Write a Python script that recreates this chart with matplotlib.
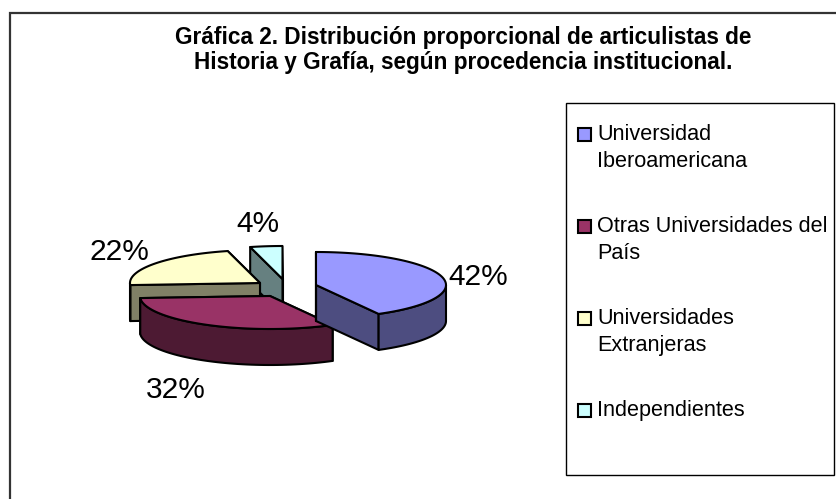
import numpy as np
import matplotlib
matplotlib.use("Agg")
import matplotlib.pyplot as plt
from matplotlib.patches import Polygon, Rectangle

plt.rcParams['font.family'] = ['Liberation Sans', 'DejaVu Sans']

title_lines = ["Gráfica 2. Distribución proporcional de articulistas de",
               "Historia y Grafía, según procedencia institucional."]
categories = ["Universidad\nIberoamericana", "Otras Universidades del\nPaís",
              "Universidades\nExtranjeras", "Independientes"]
values = [42, 32, 22, 4]
top_colors = ["#9999FF", "#993366", "#FFFFCC", "#CCFFFF"]
side_colors = ["#4D4D80", "#4D1A33", "#808066", "#668080"]
apexes = [(316, 285), (270, 296), (260, 283), (282.5, 279)]
label_pos = [(478, 277), (176, 390), (119, 252), (258, 224)]

RX, RY, DEPTH = 130, 33, 36
fig = plt.figure(figsize=(8.36, 4.99), dpi=100)
ax = fig.add_axes([0, 0, 1, 1])
ax.set_xlim(0, 836)
ax.set_ylim(499, 0)
ax.axis('off')

ax.plot([836, 10, 10], [13, 13, 499], color='#333333', lw=1.6, solid_joinstyle='miter')


def rim(a, cx, cy):
    t = np.radians(a)
    return np.column_stack([cx + RX * np.sin(t), cy - RY * np.cos(t)])


edges = np.cumsum([0] + values) * 3.6
kw = dict(ec='black', lw=1.5, joinstyle='round')
for i in [3, 2, 1, 0]:
    a0, a1 = edges[i], edges[i + 1]
    cx, cy = apexes[i]
    apex = np.array([[cx, cy]])
    for a in (a1, a0):
        p = rim(a, cx, cy)
        wall = np.vstack([apex, p, p + [0, DEPTH], apex + [0, DEPTH]])
        ax.add_patch(Polygon(wall, fc=side_colors[i], **kw))
    lo, hi = max(a0, 90), min(a1, 270)
    if hi > lo:
        arc = rim(np.linspace(lo, hi, 60), cx, cy)
        ax.add_patch(Polygon(np.vstack([arc, arc[::-1] + [0, DEPTH]]),
                             fc=side_colors[i], **kw))
    top = rim(np.linspace(a0, a1, 90), cx, cy)
    ax.add_patch(Polygon(np.vstack([apex, top]), fc=top_colors[i], **kw))

for v, (x, y) in zip(values, label_pos):
    ax.text(x, y, f"{v}%", fontsize=21.5, ha='center', va='center')

for k, line in enumerate(title_lines):
    ax.text(463, 37 + 25 * k, line, fontsize=16.3, fontweight='bold',
            ha='center', va='center')

ax.add_patch(Rectangle((565.5, 102.5), 268, 372.5, fc='white', ec='black', lw=1))
for k, c in enumerate(categories):
    y = 133 + 92 * k
    ax.add_patch(Rectangle((577.5, y - 5), 13, 13, fc=top_colors[k], ec='black', lw=1.5))
    ax.text(597, y - 9, c, fontsize=15.6, ha='left', va='top', linespacing=1.4)

fig.savefig("out.png", dpi=100)
